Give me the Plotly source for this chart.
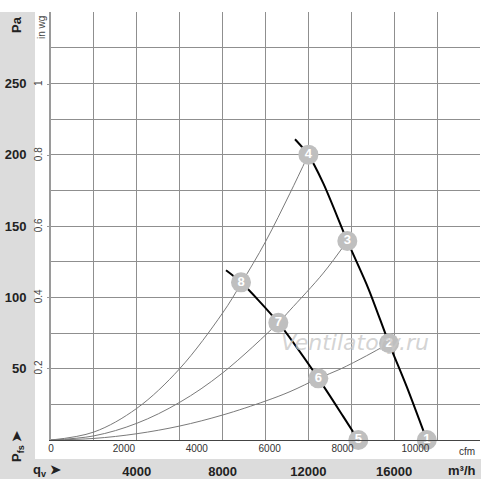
import plotly.graph_objects as go

# ---- data ----
CFM_PER_M3H = 1 / 1.699          # unit conversion
PA_PER_INWG = 249.09

m3h_ticks = [0, 2000, 4000, 6000, 8000, 10000, 12000, 14000, 16000, 18000, 20000]
m3h_labels = ["", "", "4000", "", "8000", "", "12000", "", "16000", "", ""]
cfm_ticks = [0, 2000, 4000, 6000, 8000, 10000]
cfm_labels = ["0", "2000", "4000", "6000", "8000", "10000"]
pa_ticks = [0, 25, 50, 75, 100, 125, 150, 175, 200, 225, 250, 275, 300]
pa_labels = ["", "", "50", "", "100", "", "150", "", "200", "", "250", "", ""]
inwg_ticks = [0.2, 0.4, 0.6, 0.8, 1.0]
inwg_labels = ["0.2", "0.4", "0.6", "0.8", "1"]

# fan curves (m3/h, Pa)
high_q = [11375, 11990, 12695, 13814, 14800, 15758, 16583, 17520]
high_p = [210.8, 200, 179.9, 139.5, 106, 67.8, 37.4, 0]
low_q = [8159, 8858, 10597, 12462, 13628, 14327]
low_p = [119, 110.5, 82.2, 43.2, 16.4, 0]

# system curves
sys1_q = [0, 2000, 4000, 6000, 8000, 8858, 10000, 11142, 12000]
sys1_p = [0, 5.6, 22.2, 50, 89, 109.5, 139, 173, 200]
sys2_q = [0, 2000, 4000, 6000, 8000, 10597, 11142, 12695, 13814]
sys2_p = [0, 2.9, 11.7, 26.4, 47, 82.2, 91, 117, 139.5]
sys3_q = [0, 2000, 4000, 6000, 8000, 10000, 11142, 12462, 13473, 14716, 15758]
sys3_p = [0, 1.1, 4.4, 9.8, 17.5, 27.3, 33.9, 43.2, 49.6, 59.1, 67.8]

# operating points
pt_labels = ["1", "2", "3", "4", "5", "6", "7", "8"]
pt_q = [17520, 15758, 13814, 12000, 14327, 12462, 10597, 8858]
pt_p = [0, 67.8, 139.5, 200, 0, 43.2, 82.2, 110.5]

FONT = "Arial, Liberation Sans, sans-serif"

fig = go.Figure()

for q, p in [(sys1_q, sys1_p), (sys2_q, sys2_p), (sys3_q, sys3_p)]:
    fig.add_trace(go.Scatter(x=q, y=p, mode="lines",
                             line=dict(color="#7a7a7a", width=1, shape="spline", smoothing=1.0),
                             hoverinfo="skip", showlegend=False))

for q, p in [(high_q, high_p), (low_q, low_p)]:
    fig.add_trace(go.Scatter(x=q, y=p, mode="lines",
                             line=dict(color="black", width=2, shape="spline", smoothing=0.8),
                             hoverinfo="skip", showlegend=False))

fig.add_trace(go.Scatter(x=pt_q, y=pt_p, mode="markers+text", text=pt_labels,
                         textposition="middle center",
                         textfont=dict(family=FONT, size=13, color="white", weight="bold"),
                         marker=dict(size=20, color="#bfbfbf", line=dict(width=0)),
                         cliponaxis=False, hoverinfo="skip", showlegend=False))

# dummy trace for the secondary (cfm / in wg) axes
fig.add_trace(go.Scatter(x=[None], y=[None], xaxis="x2", yaxis="y2", mode="lines",
                         showlegend=False, hoverinfo="skip"))

def px(xp):
    return (xp - 51) / 429

def py(yp):
    return (440 - yp) / 428

shapes = [
    dict(type="rect", xref="paper", yref="paper", x0=px(0), x1=px(35), y0=py(479), y1=py(12),
         fillcolor="#dcdcdc", line=dict(width=0), layer="below"),
    dict(type="rect", xref="paper", yref="paper", x0=px(0), x1=px(481), y0=py(479), y1=py(459),
         fillcolor="#dcdcdc", line=dict(width=0), layer="below"),
]

annotations = [
    dict(text="<b>Pa</b>", x=px(16), y=py(25), textangle=-90, font=dict(size=13, color="#222")),
    dict(text="in wg", x=px(41), y=py(28), textangle=-90, font=dict(size=10, color="#444")),
    dict(text="<b>P<sub>fs</sub> ➤</b>", x=px(17), y=py(447), textangle=-90,
         font=dict(size=13, color="#222")),
    dict(text="<b>q<sub>v</sub> ➤</b>", x=px(47), y=py(470), font=dict(size=13, color="#222")),
    dict(text="cfm", x=px(467), y=py(451), font=dict(size=10, color="#333")),
    dict(text="<b>m³/h</b>", x=px(462), y=py(470), font=dict(size=13, color="#222")),
]
for a in annotations:
    a["font"]["family"] = FONT
annotations.append(dict(text="Ventilatory.ru", x=px(355), y=py(342),
                        font=dict(family="DejaVu Sans", size=22,
                                  color="rgba(200,200,200,0.8)", style="italic")))
for a in annotations:
    a.update(xref="paper", yref="paper", showarrow=False, xanchor="center", yanchor="middle")

fig.update_layout(
    width=500, height=479,
    margin=dict(l=51, r=20, t=12, b=39, autoexpand=False),
    paper_bgcolor="white", plot_bgcolor="white",
    showlegend=False,
    font=dict(family=FONT),
    xaxis=dict(range=[0, 20000], tickvals=m3h_ticks, ticktext=m3h_labels, ticks="",
               showgrid=True, gridcolor="#8f8f8f", gridwidth=1, zeroline=False,
               showline=True, linecolor="#444", linewidth=1, automargin=False,
               tickfont=dict(size=13, color="#222", weight="bold"), ticklabelstandoff=19,
               fixedrange=True),
    xaxis2=dict(overlaying="x", anchor="y", side="bottom",
                range=[0, 20000 * CFM_PER_M3H], tickvals=cfm_ticks, ticktext=cfm_labels,
                ticks="", automargin=False,
                showgrid=False, zeroline=False, showline=False,
                tickfont=dict(size=10, color="#333"), ticklabelstandoff=1, fixedrange=True),
    yaxis=dict(range=[0, 300], tickvals=pa_ticks, ticktext=pa_labels, ticks="",
               showgrid=True, gridcolor="#8f8f8f", gridwidth=1, zeroline=False,
               showline=True, linecolor="#9a9a9a", linewidth=2, automargin=False,
               tickfont=dict(size=13, color="#222", weight="bold"), ticklabelstandoff=20,
               fixedrange=True),
    yaxis2=dict(overlaying="y", anchor="x", side="left",
                range=[0, 300 / PA_PER_INWG], tickvals=inwg_ticks, ticktext=inwg_labels,
                ticks="outside", ticklen=3, tickcolor="#999", tickangle=-90, automargin=False,
                showgrid=False, zeroline=False, showline=False,
                tickfont=dict(size=10, color="#444"), ticklabelstandoff=1, fixedrange=True),
    shapes=shapes,
    annotations=annotations,
)

fig.write_html("out.html", config={"displayModeBar": False},
               post_script="document.body.style.margin='0';document.body.style.overflow='hidden';")
